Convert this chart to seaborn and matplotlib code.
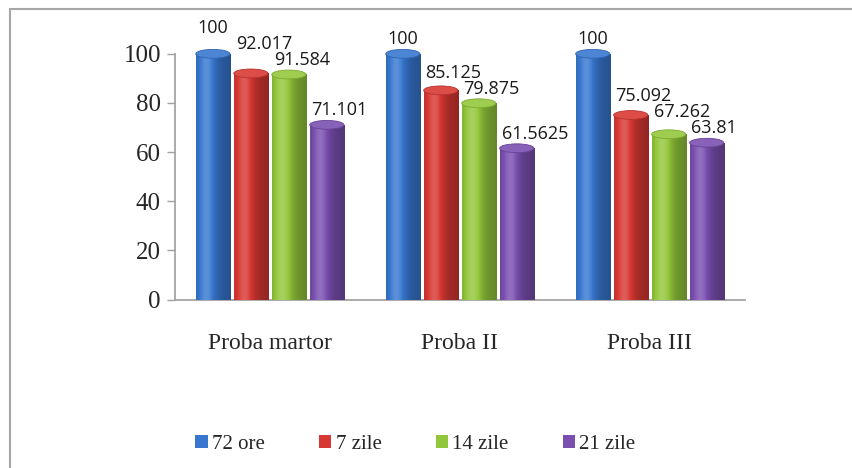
import numpy as np
import pandas as pd
import matplotlib
matplotlib.use("Agg")
import matplotlib.pyplot as plt
from matplotlib.patches import Ellipse, Patch
from matplotlib.lines import Line2D
from matplotlib.colors import to_rgb
import seaborn as sns

categories = ["Proba martor", "Proba II", "Proba III"]
series = ["72 ore", "7 zile", "14 zile", "21 zile"]
v_72ore = [100, 100, 100]
v_7zile = [92.017, 85.125, 75.092]
v_14zile = [91.584, 79.875, 67.262]
v_21zile = [71.101, 61.5625, 63.81]
label_text = {
    "72 ore": ["100", "100", "100"],
    "7 zile": ["92.017", "85.125", "75.092"],
    "14 zile": ["91.584", "79.875", "67.262"],
    "21 zile": ["71.101", "61.5625", "63.81"],
}
colors = ["#3877D0", "#D83833", "#93C73B", "#7A4FB0"]

df = pd.DataFrame({
    "proba": categories * 4,
    "timp": [s for s in series for _ in categories],
    "val": v_72ore + v_7zile + v_14zile + v_21zile,
})

sns.set_theme(style="white")
plt.rcParams["font.family"] = ["Liberation Serif", "DejaVu Serif"]

fig = plt.figure(figsize=(8.53, 4.68), dpi=100)
ax = fig.add_axes([0.205, 0.36, 0.668, 0.525])

sns.barplot(data=df, x="proba", y="val", hue="timp", hue_order=series,
            palette=colors, width=0.8, ax=ax, legend=False, saturation=1)

ax.set_ylim(0, 100)
ax.set_xlim(-0.5, 2.5)


def tint(c, k):
    c = np.array(to_rgb(c))
    if k <= 1:
        return c * k
    return np.clip(c + (1 - c) * (k - 1) * 1.3, 0, 1)


def shade(c):
    # horizontal cylinder shading: highlight left of center, darker right edge
    t = np.linspace(0, 1, 64)
    k = 0.82 + 0.33 * np.exp(-((t - 0.3) / 0.25) ** 2) - 0.14 * t ** 2
    img = np.array([[tint(c, kk) for kk in k]])
    return img


for s_idx, cont in enumerate(ax.containers):
    for j, bar in enumerate(cont):
        x0, w, h = bar.get_x(), bar.get_width(), bar.get_height()
        bar.set_alpha(0)
        im = ax.imshow(shade(colors[s_idx]), extent=(x0 + 0.01, x0 + w - 0.01, 0, h),
                       aspect="auto", zorder=3)
        clip = plt.Rectangle((x0 + 0.01, 0), w - 0.02, h, transform=ax.transData)
        im.set_clip_path(clip)
        top = Ellipse((x0 + w / 2, h), w - 0.02, 3.6, facecolor=tint(colors[s_idx], 1.08),
                      edgecolor=tint(colors[s_idx], 0.85), lw=0.6, zorder=4, clip_on=False)
        ax.add_patch(top)

# data labels, stepped downwards inside each group so they do not collide
n = len(series)
for j in range(len(categories)):
    bars = [ax.containers[i][j] for i in range(n)]
    heights = [b.get_height() for b in bars]
    bottoms = [0.0] * n
    for i in range(n - 1, -1, -1):
        y = heights[i] + 2.2
        if i < n - 1:
            y = max(y, heights[i + 1] + 1.5, bottoms[i + 1] + 6.5)
        bottoms[i] = y
    for i in range(n):
        b = bars[i]
        ax.text(b.get_x() + 0.02, bottoms[i], label_text[series[i]][j], ha="left",
                va="bottom", fontsize=13, family=["Open Sans", "DejaVu Sans"],
                color="#1a1a1a", zorder=5, clip_on=False)

ax.set_xlabel("")
ax.set_ylabel("")
ax.set_yticks([0, 20, 40, 60, 80, 100])
ax.tick_params(axis="y", labelsize=18, length=6, width=1, color="#A0A0A0",
               direction="out", pad=4, left=True)
ax.tick_params(axis="x", labelsize=17, length=0, pad=24)
for side in ["top", "right"]:
    ax.spines[side].set_visible(False)
ax.spines["left"].set_color("#A0A0A0")
ax.spines["bottom"].set_color("#A0A0A0")
ax.grid(False)

handles = [Patch(facecolor=c, edgecolor="none") for c in colors]
fig.legend(handles, series, loc="center", bbox_to_anchor=(0.487, 0.05), ncol=4,
           frameon=False, fontsize=15, handlelength=0.6, handleheight=0.6,
           handletextpad=0.2, columnspacing=2.6)

fig.add_artist(Line2D([10 / 853, 1], [1 - 9 / 468] * 2, color="#A6A6A6", lw=1.5))
fig.add_artist(Line2D([10 / 853] * 2, [0, 1 - 9 / 468], color="#A6A6A6", lw=1.5))

fig.savefig("out.png", dpi=100)
